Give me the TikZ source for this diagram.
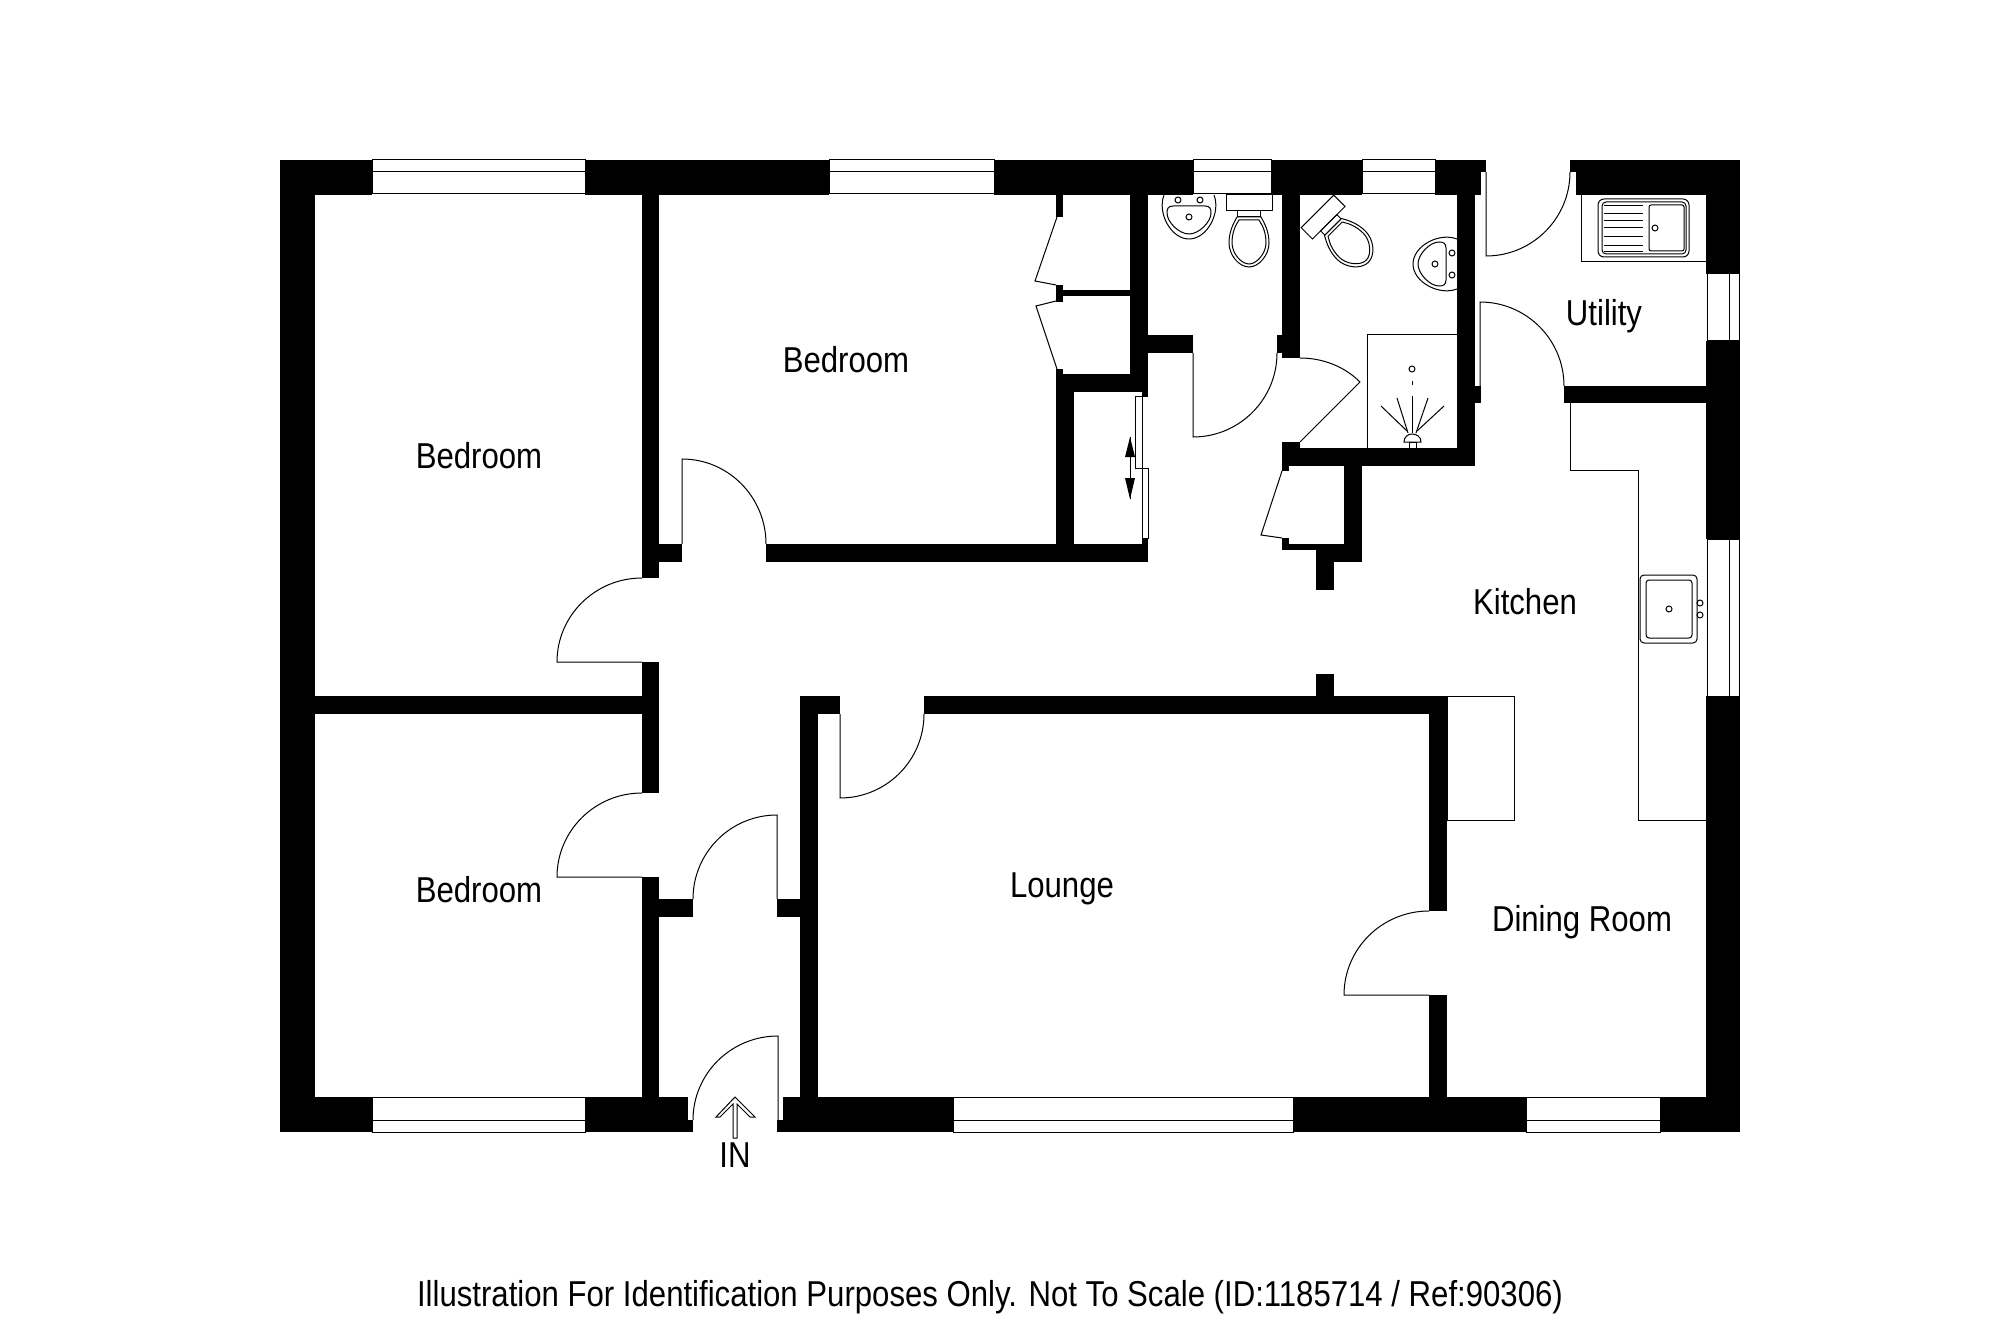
\documentclass[tikz,border=0pt]{standalone}
\usepackage{fontspec}
\setmainfont{Liberation Sans}[FakeStretch=0.865]
\usepackage{tikz}
\usetikzlibrary{positioning}

\tikzset{
	wall/.style={fill=black, draw=none},
	fixture/.style={draw=black, line width=1pt, fill=none},
	room/.style={font=\fontsize{36}{40}\selectfont, inner sep=0pt},
	basin/.pic={
		\draw[fixture] (-25,0) .. controls (-32,18) and (-18,44) .. (0,44) .. controls (18,44) and (32,18) .. (25,0);
		\draw[fixture] (-16,11) -- (16,11) .. controls (21,11) and (22,14) .. (22,18) .. controls (22,27) and (10,39) .. (0,39) .. controls (-10,39) and (-22,27) .. (-22,18) .. controls (-22,14) and (-21,11) .. (-16,11) -- cycle;
		\foreach \hx/\hy in {-11/5, 11/5, 0/22}
			\draw[fixture] (\hx,\hy) circle (3pt);
	},
	wcpan/.pic={
		\draw[fixture] (-23,-22) rectangle (23,-6);
		\draw[fixture] (-11.5,-6) rectangle (11.5,0);
		\draw[fixture] (-12,0) -- (12,0) .. controls (16,7) and (20,15) .. (20,26) .. controls (20,38) and (10,50) .. (0,50) .. controls (-10,50) and (-20,38) .. (-20,26) .. controls (-20,15) and (-16,7) .. (-12,0);
		\draw[fixture] (-10,3) -- (10,3) .. controls (14,9) and (17,16) .. (17,26) .. controls (17,36) and (8,47) .. (0,47) .. controls (-8,47) and (-17,36) .. (-17,26) .. controls (-17,16) and (-14,9) .. (-10,3) -- cycle;
	}
}

\begin{document}
\begin{tikzpicture}[x=1pt, y=-1pt]
	\useasboundingbox (0,0) rectangle (2000,1329);

	% outer walls
	\foreach \xa/\ya/\xb/\yb in {280/160/372/195, 585/160/829/195, 994/160/1193/195, 1271/160/1362/195,
		1435/160/1486/172, 1435/172/1481/195, 1570/160/1740/172, 1576/172/1740/195,
		280/160/315/1132, 1706/160/1740/274, 1706/341/1740/539, 1706/696/1740/1132,
		280/1097/372/1132, 585/1097/688/1132, 688/1120/693/1132, 783/1097/953/1132, 777/1120/783/1132,
		1293/1097/1526/1132, 1660/1097/1740/1132}
		\fill[wall] (\xa,\ya) rectangle (\xb,\yb);

	% inner walls
	\foreach \xa/\ya/\xb/\yb in {642/195/659/578, 642/662/659/793, 642/877/659/1097, 315/696/642/714,
		659/544/682/562, 766/544/1148/562, 659/899/693/917, 777/899/800/917,
		800/696/818/1097, 818/696/840/714, 924/696/1447/714, 1429/696/1447/911, 1429/995/1447/1097, 1316/674/1334/696,
		1056/374/1074/544, 1074/374/1148/392, 1130/195/1148/392, 1142/392/1148/397, 1142/538/1148/544,
		1056/195/1063/217, 1056/285/1063/302, 1063/290/1130/296, 1056/369/1063/374,
		1148/335/1193/353, 1277/335/1282/353, 1282/195/1300/358,
		1282/442/1300/448, 1282/448/1475/466, 1457/195/1475/466, 1475/386/1481/403, 1564/386/1706/403,
		1282/466/1289/471, 1282/538/1289/550, 1289/544/1344/550, 1316/550/1362/562, 1344/466/1362/562, 1316/562/1334/590}
		\fill[wall] (\xa,\ya) rectangle (\xb,\yb);

	% windows
	\foreach \xa/\xb in {372/585, 829/994, 1193/1271, 1362/1435} {
		\draw[fixture] (\xa,160) rectangle (\xb,194);
		\draw[fixture] (\xa,172) -- (\xb,172);
	}
	\foreach \xa/\xb in {372/585, 953/1293, 1526/1660} {
		\draw[fixture] (\xa,1097) rectangle (\xb,1132);
		\draw[fixture] (\xa,1120) -- (\xb,1120);
	}
	\foreach \ya/\yb in {274/341, 539/696} {
		\draw[fixture] (1707,\ya) rectangle (1739,\yb);
		\draw[fixture] (1729,\ya) -- (1729,\yb);
	}

	% doors: hinge, leaf end, far end of the swing
	\foreach \hx/\hy/\lx/\ly/\ex/\ey in {642/662/557/662/642/578, 682/544/682/459/766/544, 642/877/557/877/642/793,
		777/899/777/815/693/899, 840/714/840/798/924/714, 778/1120/778/1036/693/1120, 1429/995/1344/995/1429/911,
		1486/172/1486/256/1570/172, 1480/386/1480/302/1564/386, 1193/353/1193/437/1277/353}
		\draw[fixture] (\hx,\hy) -- (\lx,\ly) .. controls ({\lx+0.5523*(\ex-\hx)},{\ly+0.5523*(\ey-\hy)}) and ({\ex+0.5523*(\lx-\hx)},{\ey+0.5523*(\ly-\hy)}) .. (\ex,\ey);
	\draw[fixture] (1300,358) .. controls (1322,358) and (1344,366) .. (1360,382) -- (1300,442);

	% cupboard doors
	\draw[fixture] (1057,217) -- (1035,281) -- (1056,285);
	\draw[fixture] (1056,301) -- (1036,306) -- (1057,369);
	\draw[fixture] (1282,471) -- (1261,535) -- (1282,538);

	% sliding door
	\draw[fixture] (1135,397) rectangle (1142,468);
	\draw[fixture] (1142,468) rectangle (1148,538);
	\draw[fixture] (1130,437) -- (1130,499);
	\fill (1130,437) -- (1135,457) -- (1125,457) -- cycle;
	\fill (1130,499) -- (1135,478) -- (1125,478) -- cycle;

	% bathroom fittings
	\pic at (1189,195) {basin};
	\pic at (1249,217) {wcpan};
	\pic[rotate=45] at (1333,227) {wcpan};
	\pic[rotate=-90] at (1457,264) {basin};

	% shower
	\draw[fixture] (1367,448) -- (1367,335) -- (1457,335);
	\draw[fixture] (1412,369) circle (3pt);
	\draw[fixture] (1412,381) -- (1412,385);
	\foreach \xa/\ya/\xb/\yb in {1412/396/1412/433, 1397/398/1408/433, 1428/398/1416/433, 1381/406/1407/431, 1444/406/1417/431}
		\draw[fixture] (\xa,\ya) -- (\xb,\yb);
	\draw[fixture] (1404,442) .. controls (1404,437) and (1408,434) .. (1412,434) .. controls (1417,434) and (1421,437) .. (1421,442) -- cycle;
	\draw[fixture] (1409,442) rectangle (1416,448);

	% utility worktop and sink
	\draw[fixture] (1581,195) -- (1581,262) -- (1706,262);
	\draw[fixture, rounded corners=6pt] (1598,199) rectangle (1689,257);
	\draw[fixture, rounded corners=4pt] (1602,202) rectangle (1686,254);
	\draw[fixture, rounded corners=2pt] (1649,205) rectangle (1684,251);
	\foreach \ya in {206,214,221,228,237,246,252}
		\draw[fixture] (1604,\ya) -- (1643,\ya);
	\draw[fixture] (1655,228) circle (3pt);

	% kitchen worktop and sink
	\draw[fixture] (1570,403) -- (1570,470) -- (1638,470) -- (1638,820) -- (1706,820);
	\draw[fixture, rounded corners=4pt] (1640,575) rectangle (1697,643);
	\draw[fixture, rounded corners=3pt] (1646,580) rectangle (1692,638);
	\foreach \hx/\hy in {1669/609, 1700/603, 1700/615}
		\draw[fixture] (\hx,\hy) circle (3pt);

	% fireplace
	\draw[fixture] (1447,696) rectangle (1514,820);

	% entrance arrow
	\draw[fixture] (733,1138) -- (733,1104) -- (720,1117) -- (716,1117) -- (735,1097) -- (755,1117) -- (750,1117) -- (737,1104) -- (737,1138) -- cycle;

	% labels
	\node[room] (bedroomtop) at (846,360) {Bedroom};
	\node[room] (bedroomleft) at (479,456) {Bedroom};
	\node[room] (bedroomlow) at (479,890) {Bedroom};
	\node[room] (lounge) at (1062,889) {Lounge};
	\node[room] (kitchen) at (1525,602) {Kitchen};
	\node[room] (dining) at (1582,922) {Dining Room};
	\node[room] (utility) at (1604,316) {Utility};
	\node[room] (entry) at (735,1155) {IN};
	\node[room] (footer) at (990,1297) {Illustration For Identification Purposes Only. Not To Scale (ID:1185714 / Ref:90306)};
\end{tikzpicture}
\end{document}
